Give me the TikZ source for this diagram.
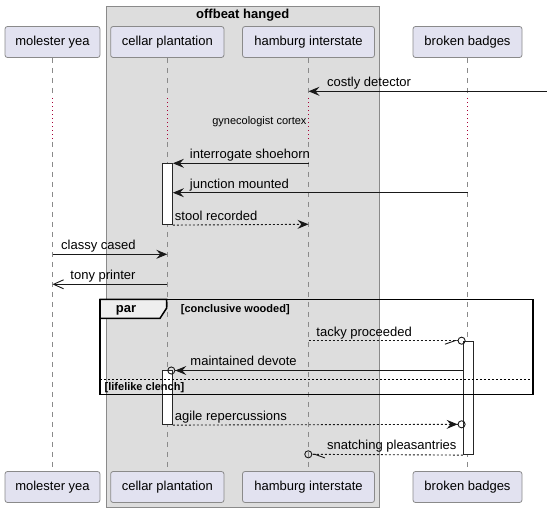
\documentclass[tikz,border=0pt]{standalone}
\usepackage{fontspec}
\setmainfont{Liberation Sans}
\usetikzlibrary{positioning, arrows.meta}
\definecolor{partfill}{HTML}{E2E2F0}
\definecolor{boxfill}{HTML}{DDDDDD}
\definecolor{tabfill}{HTML}{EEEEEE}
\definecolor{delayred}{HTML}{A80036}
\definecolor{edgegray}{HTML}{8A8A8A}

\begin{document}
\begin{tikzpicture}[x=1pt, y=-1pt]
\tikzset{
>={Stealth[length=11pt, width=9pt, inset=4pt]}, % filled heads
every node/.style={font=\fontsize{13}{15}\selectfont, inner sep=0pt},
part/.style={draw=edgegray, line width=0.8pt, fill=partfill, rounded corners=2.5pt, minimum height=31pt}, % participant boxes
life/.style={-, draw=edgegray, line width=0.8pt, dash pattern=on 5pt off 5pt}, % lifelines
delay/.style={-, draw=delayred, line width=0.8pt, dash pattern=on 1pt off 3pt}, % the delay part
act/.style={draw=black!85, fill=white, line width=0.8pt, minimum width=10.4pt, anchor=north},
msg/.style={->, line width=0.9pt, draw=black!90},
reply/.style={msg, dash pattern=on 2pt off 2pt},
openhead/.style={-{Straight Barb[length=10pt, width=9pt]}},
circ/.style={-{Stealth[length=11pt, width=9pt, inset=4pt] Circle[open, length=8pt, width=8pt]}},
halfright/.style={-{Straight Barb[right, length=10pt, width=7pt] Circle[open, length=8pt, width=8pt]}},
halfleft/.style={-{Straight Barb[left, length=10pt, width=7pt] Circle[open, length=8pt, width=8pt]}},
lbl/.style={anchor=base west, yshift=4.5pt},
small/.style={font=\fontsize{11}{13}\selectfont},
bold/.style={font=\fontsize{11}{13}\selectfont\bfseries},
frame/.style={draw=black, line width=1.5pt},
}
\useasboundingbox (0,0) rectangle (547,513);

% the box round two participants
\draw[draw=edgegray, line width=0.8pt, fill=boxfill] (106.3,6) rectangle (379.3,507.3);
\node[font=\fontsize{13}{15}\selectfont\bfseries] (grp) at (242.8,15.3) {offbeat hanged};

\node[part, minimum width=95pt] (mol) at (52.5,42) {molester yea};
\node[part, minimum width=113.3pt, right of=mol, node distance=114.8pt] (cel) {cellar plantation};
\node[part, minimum width=132pt, right of=cel, node distance=141.2pt] (ham) {hamburg interstate};
\node[part, minimum width=109pt, right of=ham, node distance=159pt] (bro) {broken badges};
\node[part, minimum width=95pt, below of=mol, node distance=445pt] (molB) {molester yea};
\node[part, minimum width=113.3pt, below of=cel, node distance=445pt] (celB) {cellar plantation};
\node[part, minimum width=132pt, below of=ham, node distance=445pt] (hamB) {hamburg interstate};
\node[part, minimum width=109pt, below of=bro, node distance=445pt] (broB) {broken badges};

% rows
\coordinate (rim) at (547,0);
\coordinate (m1) at (0,91.3);
\coordinate (d1) at (0,98.3);
\coordinate (d2) at (0,142);
\coordinate (m2) at (0,163.3);
\coordinate (m3) at (0,192.7);
\coordinate (m4) at (0,224.3);
\coordinate (m5) at (0,254.3);
\coordinate (m6) at (0,284.3);
\coordinate (m7) at (0,340.7);
\coordinate (m8) at (0,370.5);
\coordinate (m9) at (0,424.3);
\coordinate (m10) at (0,454.3);

\draw (mol.south) edge[life] (mol |- d1) (mol |- d1) edge[delay] (mol |- d2) (mol |- d2) edge[life] (molB.north)
	(cel.south) edge[life] (cel |- d1) (cel |- d1) edge[delay] (cel |- d2) (cel |- d2) edge[life] (celB.north)
	(ham.south) edge[life] (ham |- d1) (ham |- d1) edge[delay] (ham |- d2) (ham |- d2) edge[life] (hamB.north)
	(bro.south) edge[life] (bro |- d1) (bro |- d1) edge[delay] (bro |- d2) (bro |- d2) edge[life] (broB.north);
\node[small, anchor=east, xshift=-1.8pt] (gyn) at (ham |- 0,121.7) {gynecologist cortex};

% activations
\node[act, minimum height=61pt] (a1) at (cel |- m2) {};
\node[act, minimum height=113.6pt, xshift=1pt] (a2) at (bro |- m7) {};
\node[act, minimum height=53.8pt] (a3) at (cel |- m8) {};

% par frame
\draw[frame, fill=tabfill] (100,299.5) -- (166.7,299.5) -- (166.7,308) -- (160,318.3) -- (100,318.3) -- cycle;
\draw[frame] (100,299.5) rectangle (533,394.5);
\draw[line width=0.8pt, dash pattern=on 2pt off 2pt] (100,379.3) -- (533,379.3);
\node[font=\fontsize{13}{15}\selectfont\bfseries] (par) at (126,310) {par};
\node[bold, anchor=west] (cond1) at (180.7,310) {[conclusive wooded]};
\node[bold, anchor=west] (cond2) at (104.5,387.3) {[lifelike clench]};

\draw (rim |- m1) edge[msg] node[lbl, at end, xshift=18.2pt] {costly detector} (ham |- m1)
	(ham |- m2) edge[msg] node[lbl, at end, xshift=16.6pt] {interrogate shoehorn} (a1.east |- m2)
	(bro |- m3) edge[msg] node[lbl, at end, xshift=16.6pt] {junction mounted} (a1.east |- m3)
	(a1.south east) edge[reply] node[lbl, at start, xshift=1.6pt] {stool recorded} (ham |- m4)
	(mol |- m5) edge[msg] node[lbl, at start, xshift=8.2pt] {classy cased} (cel |- m5)
	(cel |- m6) edge[msg, openhead] node[lbl, at end, xshift=17.5pt] {tony printer} (mol |- m6)
	(ham |- m7) edge[reply, halfright] node[lbl, at start, xshift=7.5pt] {tacky proceeded} ([xshift=2.7pt]a2.west |- m7)
	(a2.west |- m8) edge[msg, circ] node[lbl, at end, xshift=22.7pt] {maintained devote} (cel |- m8)
	(a3.south east) edge[reply, circ] node[lbl, at start, xshift=1.6pt] {agile repercussions} ([xshift=2.7pt]a2.west |- m9)
	(a2.south west) edge[reply, halfleft] node[lbl, at end, xshift=22.4pt] {snatching pleasantries} ([xshift=-4.2pt]ham |- m10);
\end{tikzpicture}
\end{document}
